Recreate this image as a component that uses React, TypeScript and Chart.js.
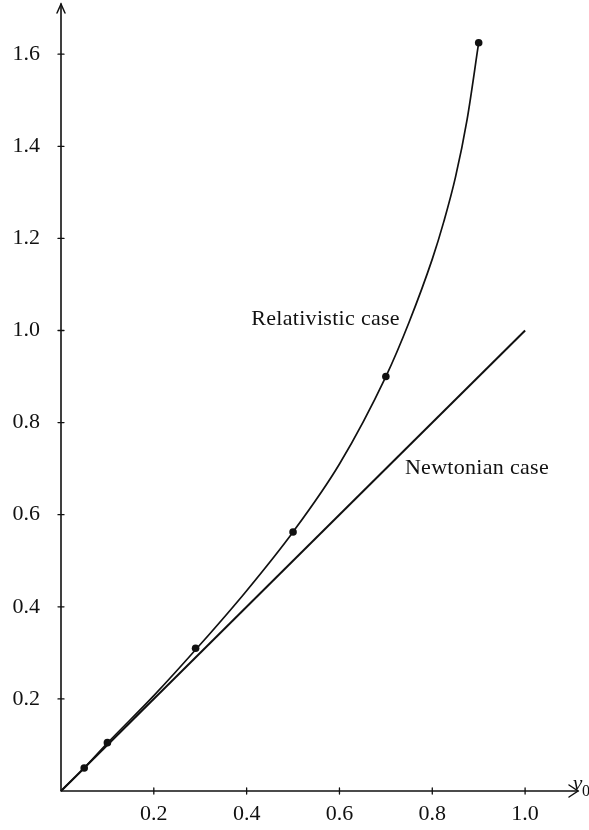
import React, { useEffect, useRef } from "react";
import { Chart, registerables } from "chart.js";

Chart.register(...registerables);

// Relativistic curve
const curveX = [0, 0.05, 0.1, 0.2, 0.3, 0.4, 0.5, 0.6, 0.7, 0.75, 0.8, 0.825, 0.85, 0.875, 0.9];
const curveY = [0, 0.05, 0.104, 0.207, 0.318, 0.435, 0.5625, 0.71, 0.9, 1.018, 1.155, 1.237, 1.333, 1.458, 1.625];
// Plotted points on the relativistic curve
const dotX = [0.05, 0.1, 0.29, 0.5, 0.7, 0.9];
const dotY = [0.05, 0.105, 0.31, 0.5625, 0.9, 1.625];
// Newtonian straight line
const newtonX = [0, 1.0];
const newtonY = [0, 1.0];
// Axis ticks
const xTicks = [0.2, 0.4, 0.6, 0.8, 1.0];
const xTickLabels = ["0.2", "0.4", "0.6", "0.8", "1.0"];
const yTicks = [0.2, 0.4, 0.6, 0.8, 1.0, 1.2, 1.4, 1.6];
const yTickLabels = ["0.2", "0.4", "0.6", "0.8", "1.0", "1.2", "1.4", "1.6"];
// Curve labels (data coordinates of their left/middle)
const labelTexts = ["Relativistic case", "Newtonian case"];
const labelX = [0.41, 0.741];
const labelY = [1.024, 0.702];

const X_MAX = 1.114;
const Y_MAX = 1.709;
const FONT = "'Liberation Serif', 'Times New Roman', serif";
const INK = "#111";

const toPts = (xs: number[], ys: number[]) => xs.map((x, i) => ({ x, y: ys[i] }));

const axesPlugin = {
  id: "axesPlugin",
  afterDraw(chart: any) {
    const ctx = chart.ctx as CanvasRenderingContext2D;
    const xs = chart.scales.x;
    const ys = chart.scales.y;
    const x0 = xs.getPixelForValue(0);
    const y0 = ys.getPixelForValue(0);
    const xEnd = xs.getPixelForValue(X_MAX);
    const yEnd = ys.getPixelForValue(Y_MAX);
    ctx.save();
    ctx.strokeStyle = INK;
    ctx.fillStyle = INK;
    ctx.lineWidth = 1.6;
    ctx.lineCap = "round";
    // axes
    ctx.beginPath();
    ctx.moveTo(x0, y0);
    ctx.lineTo(xEnd, y0);
    ctx.moveTo(x0, y0);
    ctx.lineTo(x0, yEnd);
    ctx.stroke();
    // arrowheads
    ctx.lineWidth = 1.5;
    ctx.beginPath();
    ctx.moveTo(xEnd - 9, y0 - 6);
    ctx.lineTo(xEnd, y0);
    ctx.lineTo(xEnd - 9, y0 + 6);
    ctx.moveTo(x0 - 4, yEnd + 9);
    ctx.lineTo(x0, yEnd);
    ctx.lineTo(x0 + 4, yEnd + 9);
    ctx.stroke();
    // ticks
    ctx.lineWidth = 1.3;
    ctx.beginPath();
    xTicks.forEach((v) => {
      const px = xs.getPixelForValue(v);
      ctx.moveTo(px, y0 - 3);
      ctx.lineTo(px, y0 + 3);
    });
    yTicks.forEach((v) => {
      const py = ys.getPixelForValue(v);
      ctx.moveTo(x0 - 3, py);
      ctx.lineTo(x0 + 3, py);
    });
    ctx.stroke();
    // tick labels
    ctx.font = `22px ${FONT}`;
    ctx.textBaseline = "middle";
    ctx.textAlign = "center";
    xTicks.forEach((v, i) => {
      ctx.fillText(xTickLabels[i], xs.getPixelForValue(v), y0 + 23);
    });
    ctx.textAlign = "right";
    yTicks.forEach((v, i) => {
      ctx.fillText(yTickLabels[i], x0 - 21, ys.getPixelForValue(v));
    });
    // curve labels
    ctx.textAlign = "left";
    try {
      (ctx as any).letterSpacing = "0.3px";
    } catch (e) {}
    labelTexts.forEach((t, i) => {
      ctx.fillText(t, xs.getPixelForValue(labelX[i]), ys.getPixelForValue(labelY[i]));
    });
    try {
      (ctx as any).letterSpacing = "0px";
    } catch (e) {}
    // axis title v0
    ctx.font = `italic 21px ${FONT}`;
    ctx.fillText("v", xEnd - 5, y0 - 7);
    ctx.font = `16px ${FONT}`;
    ctx.fillText("0", xEnd + 4, y0 + 1);
    ctx.restore();
  },
};

export default function App() {
  const ref = useRef<HTMLCanvasElement | null>(null);
  useEffect(() => {
    if (!ref.current) return;
    const chart = new Chart(ref.current, {
      type: "scatter",
      data: {
        datasets: [
          {
            label: "Relativistic case",
            data: toPts(curveX, curveY),
            showLine: true,
            borderColor: INK,
            borderWidth: 1.7,
            pointRadius: 0,
            cubicInterpolationMode: "monotone",
            fill: false,
          } as any,
          {
            label: "Newtonian case",
            data: toPts(newtonX, newtonY),
            showLine: true,
            borderColor: INK,
            borderWidth: 2,
            pointRadius: 0,
            fill: false,
          } as any,
          {
            label: "Points",
            data: toPts(dotX, dotY),
            showLine: false,
            pointRadius: 3.8,
            pointBackgroundColor: INK,
            pointBorderColor: INK,
            pointBorderWidth: 0,
          } as any,
        ],
      },
      options: {
        animation: false,
        responsive: false,
        layout: { padding: { left: 61, right: 11, top: 3, bottom: 39 } },
        plugins: { legend: { display: false }, tooltip: { enabled: false } },
        scales: {
          x: { type: "linear", min: 0, max: X_MAX, display: false },
          y: { type: "linear", min: 0, max: Y_MAX, display: false },
        },
        clip: false as any,
      },
      plugins: [axesPlugin],
    });
    return () => chart.destroy();
  }, []);
  return (
    <div style={{ position: "absolute", left: 0, top: 0, width: 589, height: 830, background: "#fff" }}>
      <canvas ref={ref} width={589} height={830} style={{ display: "block" }} />
    </div>
  );
}
